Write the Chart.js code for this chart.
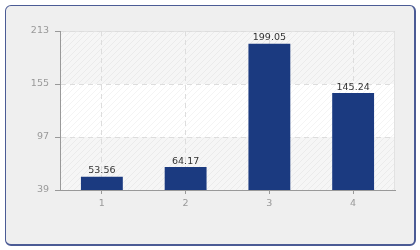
<!DOCTYPE html>
<html>
<head>
<meta charset="utf-8">
<script src="https://cdn.jsdelivr.net/npm/chart.js@4"></script>
<style>
  html, body { margin: 0; padding: 0; background: #ffffff; }
  #frame {
    position: absolute; left: 5px; top: 5px; width: 408px; height: 238px;
    border: 1px solid #4b5b95; border-right-width: 2px; border-bottom-width: 2px;
    border-radius: 6px; background: #efefef;
  }
  #wrap { position: absolute; left: 0; top: 0; width: 420px; height: 250px; }
</style>
</head>
<body>
<div id="frame"></div>
<div id="wrap"><canvas id="myChart" width="420" height="250"></canvas></div>
<script>
// chart data
const categories = ["1", "2", "3", "4"];
const values = [53.56, 64.17, 199.05, 145.24];
const yTicks = [39, 97, 155, 213];

const barColor = "#1b3a80";
const tickFont = { family: "DejaVu Sans", size: 9.5 };

// hatch pattern for plot background
function makeHatch() {
  const c = document.createElement("canvas");
  c.width = 6;
  c.height = 6;
  const g = c.getContext("2d");
  g.strokeStyle = "rgba(0,0,0,0.045)";
  g.lineWidth = 1;
  g.beginPath();
  g.moveTo(0, 6); g.lineTo(6, 0);
  g.moveTo(-3, 3); g.lineTo(3, -3);
  g.moveTo(3, 9); g.lineTo(9, 3);
  g.stroke();
  return g.createPattern(c, "repeat");
}

const plotBackground = {
  id: "plotBackground",
  beforeDraw(chart) {
    const { ctx, chartArea: a, scales } = chart;
    const y = scales.y;
    ctx.save();
    ctx.fillStyle = "#ffffff";
    ctx.fillRect(a.left, a.top, a.right - a.left, a.bottom - a.top);
    // alternating bands
    for (let i = 0; i < yTicks.length - 1; i++) {
      if (i % 2 === 0) {
        const y1 = y.getPixelForValue(yTicks[i]);
        const y2 = y.getPixelForValue(yTicks[i + 1]);
        ctx.fillStyle = "#f6f6f6";
        ctx.fillRect(a.left, y2, a.right - a.left, y1 - y2);
      }
    }
    ctx.fillStyle = makeHatch();
    ctx.fillRect(a.left, a.top, a.right - a.left, a.bottom - a.top);
    ctx.strokeStyle = "#e2e2e2";
    ctx.lineWidth = 1;
    ctx.strokeRect(a.left + 0.5, a.top + 0.5, a.right - a.left - 1, a.bottom - a.top);
    ctx.restore();
  },
};

const valueLabels = {
  id: "valueLabels",
  afterDatasetsDraw(chart) {
    const { ctx } = chart;
    const meta = chart.getDatasetMeta(0);
    ctx.save();
    ctx.font = "9.5px 'DejaVu Sans'";
    ctx.fillStyle = "#333333";
    ctx.textAlign = "center";
    ctx.textBaseline = "bottom";
    meta.data.forEach(function (bar, i) {
      ctx.fillText(values[i].toFixed(2), bar.x, bar.y - 1);
    });
    ctx.restore();
  },
};

const ctx = document.getElementById("myChart");
const myChart = new Chart(ctx, {
  type: "bar",
  data: {
    labels: categories,
    datasets: [
      {
        data: values,
        backgroundColor: barColor,
        borderWidth: 0,
        barPercentage: 0.5,
        categoryPercentage: 1,
      },
    ],
  },
  options: {
    responsive: false,
    animation: false,
    layout: { padding: { left: 0, right: 25, top: 31, bottom: 0 } },
    plugins: {
      legend: { display: false },
      tooltip: { enabled: false },
    },
    scales: {
      x: {
        grid: {
          offset: false,
          color: "#dddddd",
          tickColor: "#999999",
          tickLength: 4,
        },
        border: { color: "#999999", dash: [5, 4] },
        ticks: { color: "#999999", font: tickFont, padding: 4 },
        afterFit(scale) { scale.height = 60; },
      },
      y: {
        min: 39,
        max: 213,
        afterBuildTicks(scale) {
          scale.ticks = yTicks.map((v) => ({ value: v }));
        },
        grid: {
          color: "#dddddd",
          tickColor: "#999999",
          tickLength: 5,
        },
        border: { color: "#999999", dash: [5, 4] },
        ticks: { color: "#999999", font: tickFont, padding: 6 },
        afterFit(scale) { scale.width = 60; },
      },
    },
  },
  plugins: [plotBackground, valueLabels],
});
</script>
</body>
</html>
